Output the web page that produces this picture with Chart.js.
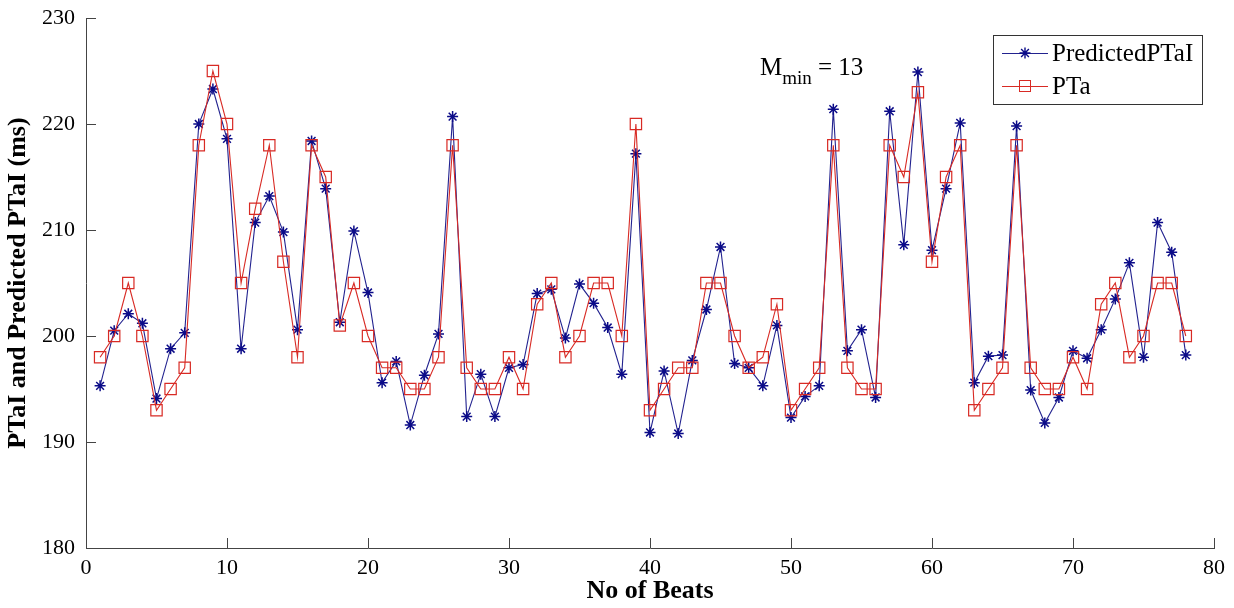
<!DOCTYPE html>
<html>
<head>
<meta charset="utf-8">
<script src="https://cdn.jsdelivr.net/npm/chart.js@4.4.1/dist/chart.umd.min.js"></script>
<style>
  html, body { margin: 0; padding: 0; background: #fff; }
  #wrap { width: 1234px; height: 608px; }
</style>
</head>
<body>
<div id="wrap"><canvas id="c" width="1234" height="608"></canvas></div>
<script>
// ---- data ----
const beats = [1,2,3,4,5,6,7,8,9,10,11,12,13,14,15,16,17,18,19,20,
  21,22,23,24,25,26,27,28,29,30,31,32,33,34,35,36,37,38,39,40,
  41,42,43,44,45,46,47,48,49,50,51,52,53,54,55,56,57,58,59,60,
  61,62,63,64,65,66,67,68,69,70,71,72,73,74,75,76,77,78];

const predictedPTaI = [195.3,200.5,202.1,201.2,194.1,198.8,200.3,220.0,223.3,218.6,
  198.8,210.7,213.2,209.8,200.6,218.4,213.9,201.3,209.9,204.1,
  195.6,197.6,191.6,196.3,200.2,220.7,192.4,196.4,192.4,197.0,
  197.3,204.0,204.4,199.8,204.9,203.1,200.8,196.4,217.2,190.9,
  196.7,190.8,197.7,202.5,208.4,197.4,197.0,195.3,201.0,192.3,
  194.3,195.3,221.4,198.6,200.6,194.2,221.2,208.6,224.9,208.1,
  213.9,220.1,195.6,198.1,198.2,219.8,194.9,191.8,194.2,198.6,
  197.9,200.6,203.5,206.9,198.0,210.7,207.9,198.2];

const pta = [198,200,205,200,193,195,197,218,225,220,
  205,212,218,207,198,218,215,201,205,200,
  197,197,195,195,198,218,197,195,195,198,
  195,203,205,198,200,205,205,200,220,193,
  195,197,197,205,205,200,197,198,203,193,
  195,197,218,197,195,195,218,215,223,207,
  215,218,193,195,197,218,197,195,195,198,
  195,203,205,198,200,205,205,200];

const xTicks = [0,10,20,30,40,50,60,70,80];
const yTicks = [180,190,200,210,220,230];
const seriesNames = ['PredictedPTaI', 'PTa'];
const xTitle = 'No of Beats';
const yTitle = 'PTaI and Predicted PTaI (ms)';
const annotation = { main: 'M', sub: 'min', rest: ' = 13', x: 47.8, y: 224.6 };

// ---- styles ----
const BLUE_LINE = '#22228f';
const BLUE_MARK = '#0b0b88';
const RED = '#d82a24';
const SERIF = '"Liberation Serif", "Times New Roman", serif';

const toXY = (ys) => beats.map((b, i) => ({ x: b, y: ys[i] }));

function drawStar(ctx, x, y, r) {
  ctx.beginPath();
  ctx.moveTo(x - r, y); ctx.lineTo(x + r, y);
  ctx.moveTo(x, y - r); ctx.lineTo(x, y + r);
  const d = r * Math.SQRT1_2;
  ctx.moveTo(x - d, y - d); ctx.lineTo(x + d, y + d);
  ctx.moveTo(x - d, y + d); ctx.lineTo(x + d, y - d);
  ctx.stroke();
}

const extras = {
  id: 'extras',
  afterDraw(chart) {
    const ctx = chart.ctx;
    const xs = chart.scales.x, ys = chart.scales.y;
    const area = chart.chartArea;
    ctx.save();
    // inward tick marks (MATLAB style)
    ctx.strokeStyle = '#444';
    ctx.lineWidth = 1;
    ctx.beginPath();
    xTicks.forEach(v => {
      const px = Math.round(xs.getPixelForValue(v)) + 0.5;
      ctx.moveTo(px, area.bottom); ctx.lineTo(px, area.bottom - 10);
    });
    yTicks.forEach(v => {
      const py = Math.round(ys.getPixelForValue(v)) + 0.5;
      ctx.moveTo(area.left, py); ctx.lineTo(area.left + 10, py);
    });
    ctx.stroke();

    // annotation M_min = 13
    const ax = xs.getPixelForValue(annotation.x);
    const ay = ys.getPixelForValue(annotation.y);
    ctx.fillStyle = '#000';
    ctx.textBaseline = 'alphabetic';
    ctx.textAlign = 'left';
    ctx.font = '25px ' + SERIF;
    ctx.fillText(annotation.main, ax, ay);
    let w = ctx.measureText(annotation.main).width;
    ctx.font = '19px ' + SERIF;
    ctx.fillText(annotation.sub, ax + w, ay + 9);
    w += ctx.measureText(annotation.sub).width;
    ctx.font = '25px ' + SERIF;
    ctx.fillText(annotation.rest, ax + w, ay);

    // legend box
    const bx = area.right - 221, by = area.top + 17, bw = 209, bh = 69;
    ctx.fillStyle = '#fff';
    ctx.fillRect(bx, by, bw, bh);
    ctx.strokeStyle = '#333';
    ctx.lineWidth = 1;
    ctx.strokeRect(bx + 0.5, by + 0.5, bw, bh);
    const rows = [by + 18, by + 51];
    const lx0 = bx + 9, lx1 = bx + 55, mx = bx + 32;
    // row 1
    ctx.strokeStyle = BLUE_LINE;
    ctx.beginPath(); ctx.moveTo(lx0, rows[0] + 0.5); ctx.lineTo(lx1, rows[0] + 0.5); ctx.stroke();
    ctx.strokeStyle = BLUE_MARK;
    ctx.lineWidth = 1.4;
    drawStar(ctx, mx, rows[0], 5.5);
    ctx.lineWidth = 1;
    // row 2
    ctx.strokeStyle = RED;
    ctx.beginPath(); ctx.moveTo(lx0, rows[1] + 0.5); ctx.lineTo(lx1, rows[1] + 0.5); ctx.stroke();
    ctx.strokeRect(mx - 5.5, rows[1] - 5.5, 11, 11);
    ctx.fillStyle = '#000';
    ctx.font = '25px ' + SERIF;
    ctx.textBaseline = 'middle';
    ctx.fillText(seriesNames[0], lx1 + 4, rows[0] + 1);
    ctx.fillText(seriesNames[1], lx1 + 4, rows[1] + 1);
    ctx.restore();
  }
};

new Chart(document.getElementById('c'), {
  type: 'line',
  data: {
    datasets: [
      {
        label: seriesNames[1],
        data: toXY(pta),
        borderColor: RED,
        borderWidth: 1.1,
        pointStyle: 'rect',
        pointRadius: 8,
        pointBorderColor: RED,
        pointBackgroundColor: 'rgba(0,0,0,0)',
        pointBorderWidth: 1.2,
        tension: 0,
        order: 0
      },
      {
        label: seriesNames[0],
        data: toXY(predictedPTaI),
        borderColor: BLUE_LINE,
        borderWidth: 1.1,
        pointStyle: 'star',
        pointRadius: 5.5,
        pointBorderColor: BLUE_MARK,
        pointBackgroundColor: BLUE_MARK,
        pointBorderWidth: 1.5,
        tension: 0,
        order: 1
      }
    ]
  },
  options: {
    responsive: false,
    animation: false,
    devicePixelRatio: 1,
    layout: { padding: { top: 18, right: 20, left: 0, bottom: 0 } },
    plugins: { legend: { display: false }, tooltip: { enabled: false } },
    scales: {
      x: {
        type: 'linear',
        position: 'bottom',
        min: 0, max: 80,
        afterBuildTicks: (s) => { s.ticks = xTicks.map(v => ({ value: v })); },
        afterFit: (s) => { s.height = 60; s.paddingLeft = 0; s.paddingRight = 0; },
        grid: { display: false, drawTicks: false },
        border: { display: true, color: '#444', width: 1 },
        ticks: { color: '#000', padding: 7, font: { family: SERIF, size: 22 }, maxRotation: 0 },
        title: { display: true, text: xTitle, color: '#000', padding: { top: 0, bottom: 1 },
                 font: { family: SERIF, size: 26, weight: 'bold' } }
      },
      y: {
        type: 'linear',
        position: 'left',
        min: 180, max: 230,
        afterBuildTicks: (s) => { s.ticks = yTicks.map(v => ({ value: v })); },
        afterFit: (s) => { s.width = 86; s.paddingTop = 0; s.paddingBottom = 0; },
        grid: { display: false, drawTicks: false },
        border: { display: true, color: '#444', width: 1 },
        ticks: { color: '#000', padding: 11, font: { family: SERIF, size: 22 } },
        title: { display: true, text: yTitle, color: '#000', padding: { top: 3, bottom: 0 },
                 font: { family: SERIF, size: 26, weight: 'bold' } }
      }
    }
  },
  plugins: [extras]
});
</script>
</body>
</html>
